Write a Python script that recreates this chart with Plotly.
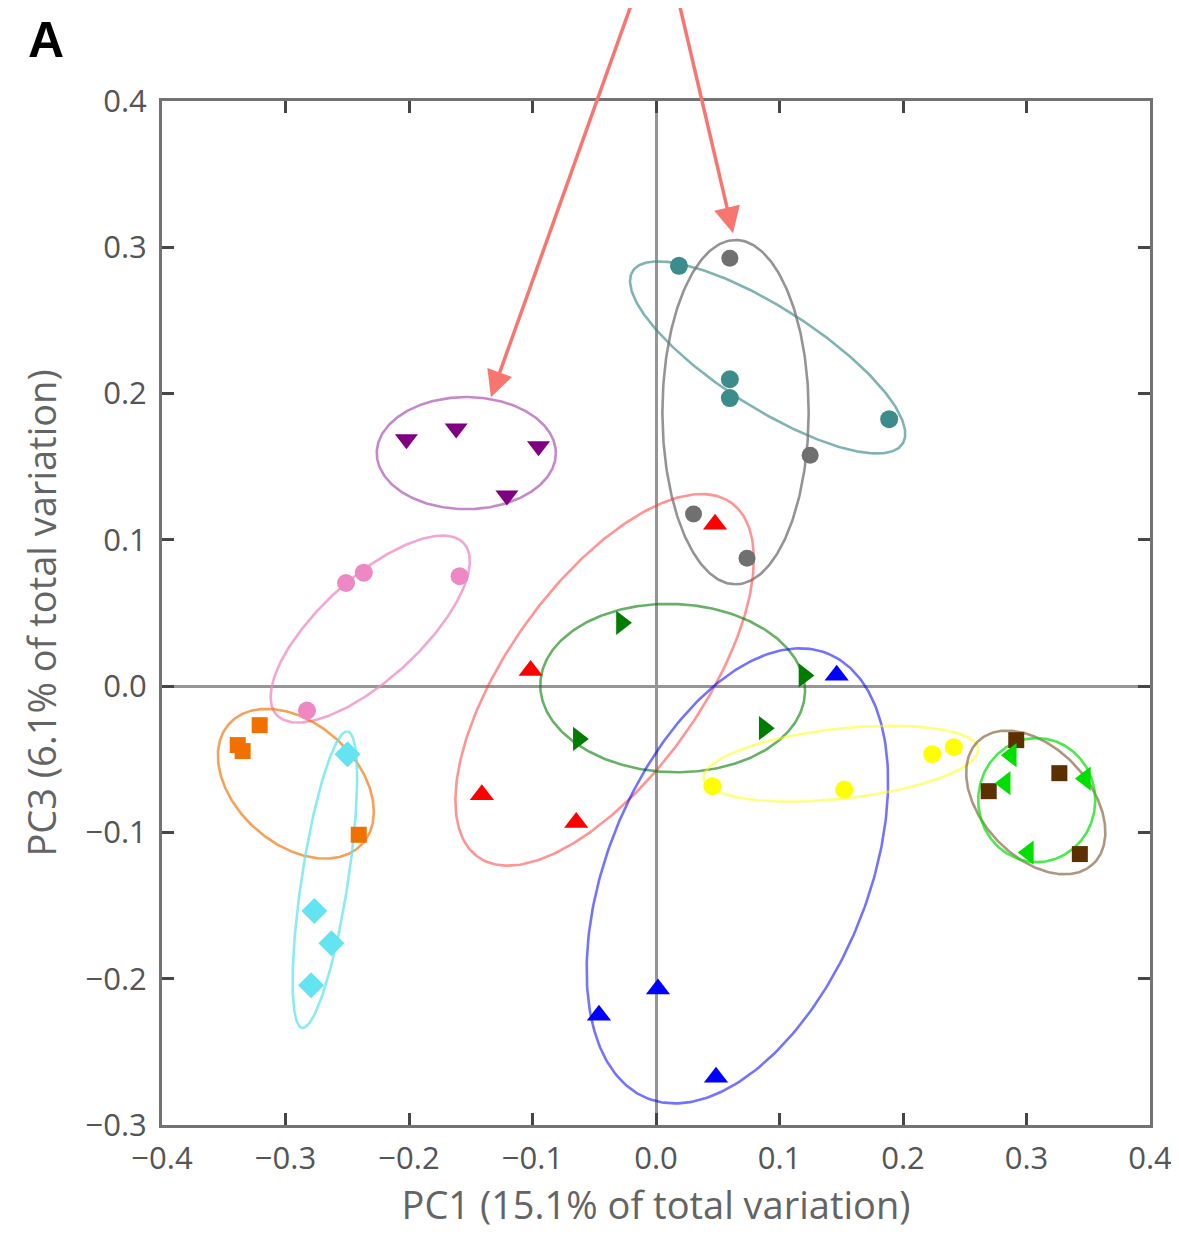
import numpy as np
import plotly.graph_objects as go

# ---------------- data (PC1, PC3 scores) ----------------
groups = ["purple", "teal", "gray", "pink", "red", "darkgreen",
          "orange", "cyan", "blue", "yellow", "brown", "lime"]

purple_x = [-0.2021, -0.1618, -0.0951, -0.1207]
purple_y = [0.1688, 0.1761, 0.1640, 0.1303]
teal_x = [0.0186, 0.0598, 0.0598, 0.1888]
teal_y = [0.2873, 0.2098, 0.1969, 0.1825]
gray_x = [0.0598, 0.1248, 0.0304, 0.0737]
gray_y = [0.2925, 0.1579, 0.1176, 0.0875]
pink_x = [-0.2510, -0.2366, -0.1590, -0.2826]
pink_y = [0.0705, 0.0776, 0.0752, -0.0167]
red_x = [-0.1015, -0.1410, -0.0646, 0.0478]
red_y = [0.0107, -0.0742, -0.0932, 0.1107]
darkgreen_x = [-0.0280, 0.1198, 0.0876, -0.0629]
darkgreen_y = [0.0433, 0.0073, -0.0287, -0.0361]
orange_x = [-0.3209, -0.3387, -0.3347, -0.2407]
orange_y = [-0.0267, -0.0403, -0.0444, -0.1016]
cyan_x = [-0.2498, -0.2766, -0.2628, -0.2793]
cyan_y = [-0.0466, -0.1537, -0.1757, -0.2044]
blue_x = [0.1463, 0.0016, -0.0462, 0.0486]
blue_y = [0.0075, -0.2071, -0.2249, -0.2673]
yellow_x = [0.0457, 0.1524, 0.2237, 0.2411]
yellow_y = [-0.0684, -0.0707, -0.0465, -0.0417]
brown_x = [0.2917, 0.3266, 0.2694, 0.3432]
brown_y = [-0.0369, -0.0595, -0.0718, -0.1148]
lime_x = [0.2877, 0.2828, 0.3477, 0.3015]
lime_y = [-0.0472, -0.0663, -0.0632, -0.1138]

# ellipse parameters: centre (data), semi-axes (x-data units), screen angle (deg)
ell_cx = [-0.1536, 0.0904, 0.0644, -0.2314, -0.0416, 0.0135,
          -0.2916, -0.2681, 0.0659, 0.1497, 0.3075, 0.3083]
ell_cy = [0.1593, 0.2247, 0.1873, 0.0390, 0.0043, -0.0013,
          -0.0667, -0.1323, -0.1297, -0.0530, -0.0795, -0.0779]
ell_a = [0.0725, 0.1297, 0.1394, 0.1028, 0.1763, 0.1072,
         0.0726, 0.1214, 0.1943, 0.1118, 0.0681, 0.0502]
ell_b = [0.0454, 0.0405, 0.0592, 0.0408, 0.0784, 0.0681,
         0.0489, 0.0188, 0.1053, 0.0284, 0.0438, 0.0474]
ell_angle = [0, 32.6, 90, -42.5, -54.4, 2,
             41.9, -81.3, -67.8, -6.2, 47.2, 90]

x_ticks = [-0.4, -0.3, -0.2, -0.1, 0.0, 0.1, 0.2, 0.3, 0.4]
y_ticks = [-0.3, -0.2, -0.1, 0.0, 0.1, 0.2, 0.3, 0.4]

# arrow tips / tails (data coordinates)
arrow_tip_x = [-0.1337, 0.0624]
arrow_tip_y = [0.1975, 0.3096]
arrow_tail_x = [-0.0170, 0.0170]
arrow_tail_y = [0.4730, 0.4730]

# ---------------- styling ----------------
data_xy = {
    "purple": (purple_x, purple_y), "teal": (teal_x, teal_y),
    "gray": (gray_x, gray_y), "pink": (pink_x, pink_y),
    "red": (red_x, red_y), "darkgreen": (darkgreen_x, darkgreen_y),
    "orange": (orange_x, orange_y), "cyan": (cyan_x, cyan_y),
    "blue": (blue_x, blue_y), "yellow": (yellow_x, yellow_y),
    "brown": (brown_x, brown_y), "lime": (lime_x, lime_y),
}
marker_color = {
    "purple": "rgb(128,0,128)", "teal": "rgb(60,140,140)", "gray": "rgb(112,112,112)",
    "pink": "rgb(238,136,196)", "red": "rgb(255,0,0)", "darkgreen": "rgb(0,125,0)",
    "orange": "rgb(240,112,0)", "cyan": "rgb(100,228,240)", "blue": "rgb(0,0,255)",
    "yellow": "rgb(255,255,0)", "brown": "rgb(92,48,0)", "lime": "rgb(0,224,0)",
}
ellipse_color = {
    "purple": "rgba(150,40,160,0.55)", "teal": "rgba(60,140,140,0.65)",
    "gray": "rgba(112,112,112,0.75)", "pink": "rgba(238,136,196,0.75)",
    "red": "rgba(255,60,60,0.55)", "darkgreen": "rgba(0,125,0,0.6)",
    "orange": "rgba(240,112,0,0.65)", "cyan": "rgba(100,228,240,0.75)",
    "blue": "rgba(0,0,255,0.55)", "yellow": "rgba(255,255,0,0.5)",
    "brown": "rgba(92,48,0,0.5)", "lime": "rgba(0,224,0,0.7)",
}
marker_symbol = {
    "purple": "triangle-down", "teal": "circle", "gray": "circle", "pink": "circle",
    "red": "triangle-up", "darkgreen": "triangle-right", "orange": "square",
    "cyan": "diamond", "blue": "triangle-up", "yellow": "circle", "brown": "square",
    "lime": "triangle-left",
}
marker_size = {
    "purple": 20, "teal": 18, "gray": 17, "pink": 18, "red": 21, "darkgreen": 21,
    "orange": 16, "cyan": 20, "blue": 21, "yellow": 18, "brown": 16, "lime": 21,
}

PLOT_W, PLOT_H = 988.0, 1024.0
ML, MT, MR, MB = 154, 93, 29, 112
ASPECT = (PLOT_H / 0.7) / (PLOT_W / 0.8)  # y-px per unit / x-px per unit

fig = go.Figure()

t = np.linspace(0, 2 * np.pi, 300)
for i, g in enumerate(groups):
    th = np.deg2rad(ell_angle[i])
    ex = ell_cx[i] + ell_a[i] * np.cos(t) * np.cos(th) - ell_b[i] * np.sin(t) * np.sin(th)
    ey = ell_cy[i] - (ell_a[i] * np.cos(t) * np.sin(th) + ell_b[i] * np.sin(t) * np.cos(th)) / ASPECT
    fig.add_trace(go.Scatter(x=ex, y=ey, mode="lines",
                             line=dict(color=ellipse_color[g], width=2.6),
                             hoverinfo="skip", showlegend=False))

for g in groups:
    xs, ys = data_xy[g]
    fig.add_trace(go.Scatter(x=xs, y=ys, mode="markers", name=g,
                             marker=dict(symbol=marker_symbol[g], size=marker_size[g],
                                         color=marker_color[g], line=dict(width=0)),
                             showlegend=False))

for tx, ty, sx, sy in zip(arrow_tip_x, arrow_tip_y, arrow_tail_x, arrow_tail_y):
    fig.add_annotation(x=tx, y=ty, ax=sx, ay=sy, xref="x", yref="y",
                       axref="x", ayref="y", text="", showarrow=True,
                       arrowhead=2, arrowsize=1.5, arrowwidth=3.5,
                       arrowcolor="rgb(248,118,112)", standoff=0)

# panel letter (page has an 8px body margin)
fig.add_annotation(x=(46 - 8 - ML) / PLOT_W, y=1 + (MT - 2) / PLOT_H,
                   xref="paper", yref="paper", text="<b>A</b>", showarrow=False,
                   xanchor="center", yanchor="top",
                   font=dict(family="Liberation Sans, Arial", size=50, color="black"))

axis_common = dict(
    showgrid=False, zeroline=True, zerolinecolor="rgb(150,150,150)", zerolinewidth=3,
    showline=True, linecolor="rgb(115,115,115)", linewidth=3, mirror="allticks",
    ticks="inside", ticklen=12, tickwidth=3, tickcolor="rgb(70,70,70)",
    tickfont=dict(family="Open Sans", size=31, color="rgb(85,85,85)"),
    tickformat=".1f",
)

fig.update_xaxes(range=[-0.4, 0.4], tickvals=x_ticks, ticklabelstandoff=4, **axis_common,
                 title=dict(text="PC1 (15.1% of total variation)", standoff=16,
                            font=dict(family="Open Sans", size=38, color="rgb(100,100,100)")))
fig.update_yaxes(range=[-0.3, 0.4], tickvals=y_ticks, ticklabelstandoff=6, **axis_common,
                 title=dict(text="PC3 (6.1% of total variation)", standoff=18,
                            font=dict(family="Open Sans", size=38, color="rgb(100,100,100)")))

fig.update_layout(width=1171, height=1229,
                  margin=dict(l=ML, r=MR, t=MT, b=MB, autoexpand=False),
                  paper_bgcolor="white", plot_bgcolor="white", showlegend=False)

fig.write_html("out.html")
